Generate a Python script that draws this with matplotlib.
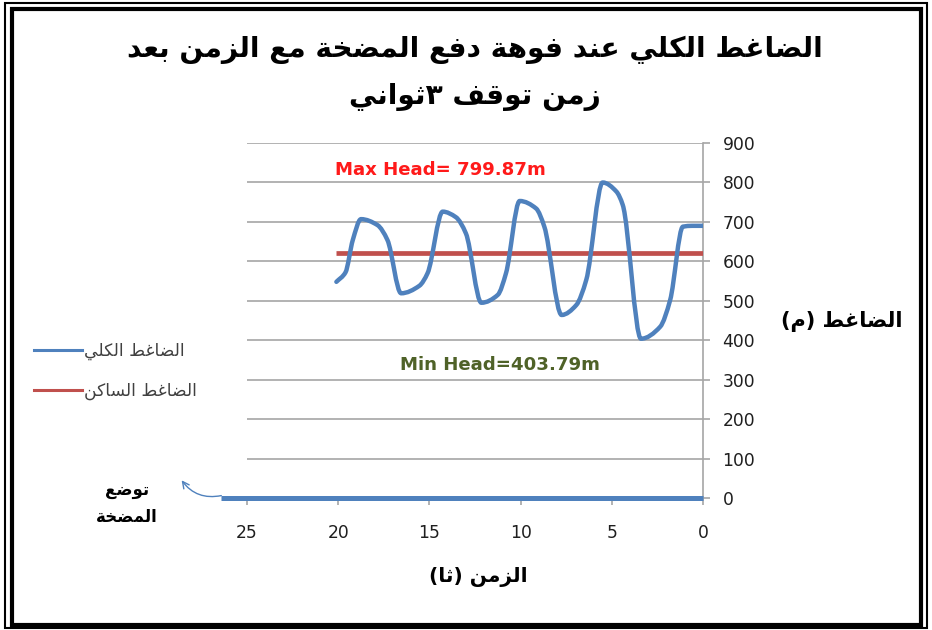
import matplotlib
matplotlib.use("Agg")
import matplotlib.pyplot as plt
from matplotlib.path import Path
from matplotlib.patches import PathPatch, Rectangle, FancyArrowPatch
from matplotlib.lines import Line2D
import numpy as np

# ---------------- data ----------------
time_s = [20.1, 19.6, 19.2, 18.75, 17.85, 17.3, 16.55, 15.55, 15.1, 14.27,
          13.55, 13.0, 12.15, 11.25, 10.8, 10.05, 9.15, 8.7, 7.75, 6.95,
          6.4, 5.5, 4.75, 4.4, 3.4, 2.35, 1.8, 1.1, 0.6, 0.0]
total_head = [548, 572, 654, 707, 692, 654, 519, 538, 570, 726,
              712, 671, 495, 515, 570, 753, 734, 688, 464, 489,
              553, 799.87, 777, 743, 403.79, 434, 502, 688, 690, 690]
static_time = [20.1, 0.0]
static_head = [622, 622]
pump_time = [0.0, 26.4]
pump_head = [0, 0]

x_ticks = [0, 5, 10, 15, 20, 25]
y_ticks = [0, 100, 200, 300, 400, 500, 600, 700, 800, 900]

title_lines = ["الضاغط الكلي عند فوهة دفع المضخة مع الزمن بعد", "زمن توقف ٣ثواني"]
legend_labels = ["الضاغط الكلي", "الضاغط الساكن"]
y_label = "الضاغط (م)"
x_label = "الزمن (ثا)"
pump_note = ["توضع", "المضخة"]

BLUE = "#4F81BD"
RED = "#C0504D"
GRID = "#A6A6A6"

# ------------- Arabic shaping (presentation forms, visual order) -------------
_letters = [("ء", 1), ("آ", 2), ("أ", 2), ("ؤ", 2), ("إ", 2), ("ئ", 4), ("ا", 2),
            ("ب", 4), ("ة", 2), ("ت", 4), ("ث", 4), ("ج", 4), ("ح", 4), ("خ", 4),
            ("د", 2), ("ذ", 2), ("ر", 2), ("ز", 2), ("س", 4), ("ش", 4), ("ص", 4),
            ("ض", 4), ("ط", 4), ("ظ", 4), ("ع", 4), ("غ", 4), ("ف", 4), ("ق", 4),
            ("ك", 4), ("ل", 4), ("م", 4), ("ن", 4), ("ه", 4), ("و", 2), ("ى", 2),
            ("ي", 4)]
FORMS = {}
_cp = 0xFE80
for _ch, _n in _letters:
    FORMS[_ch] = [chr(_cp + k) for k in range(_n)]
    _cp += _n
LAM_ALEF = {"ا": ("\uFEFB", "\uFEFC"), "أ": ("\uFEF7", "\uFEF8"),
            "إ": ("\uFEF9", "\uFEFA"), "آ": ("\uFEF5", "\uFEF6")}
MIRROR = {"(": ")", ")": "(", "[": "]", "]": "["}


def _joins_forward(ch):
    return ch in FORMS and len(FORMS[ch]) == 4


def shape(text):
    chars = list(text)
    out = []
    i = 0
    while i < len(chars):
        c = chars[i]
        prev = chars[i - 1] if i > 0 else ""
        nxt = chars[i + 1] if i + 1 < len(chars) else ""
        jp = _joins_forward(prev) and c in FORMS and c != "ء"
        if c == "ل" and nxt in LAM_ALEF:
            out.append(LAM_ALEF[nxt][1 if jp else 0])
            i += 2
            continue
        if c in FORMS:
            jn = _joins_forward(c) and nxt in FORMS
            f = FORMS[c]
            if jp and jn:
                out.append(f[3])
            elif jp:
                out.append(f[1])
            elif jn:
                out.append(f[2])
            else:
                out.append(f[0])
        else:
            out.append(MIRROR.get(c, c))
        i += 1
    return "".join(reversed(out))


# ---------------- figure ----------------
W, H = 932, 630
fig = plt.figure(figsize=(W / 100, H / 100), dpi=100)
fig.patch.set_facecolor("white")


def fx(px):
    return px / W


def fy(py):
    return 1 - py / H


ax = fig.add_axes([fx(247), fy(498), fx(703) - fx(247), fy(143) - fy(498)])
ax.set_xlim(25, 0)
ax.set_ylim(0, 900)
ax.set_facecolor("white")

for yv in y_ticks[1:]:
    ax.axhline(yv, color=GRID, lw=1.2, zorder=1)

for side in ("left", "top"):
    ax.spines[side].set_visible(False)
for side in ("right", "bottom"):
    ax.spines[side].set_color(GRID)
    ax.spines[side].set_linewidth(1.2)

ax.yaxis.tick_right()
ax.set_xticks(x_ticks)
ax.set_yticks(y_ticks)
ax.tick_params(axis="both", direction="out", length=5, width=1.2, color=GRID,
               labelcolor="#1F1F1F", labelsize=12.3)
for lab in ax.get_xticklabels() + ax.get_yticklabels():
    lab.set_fontfamily("DejaVu Sans")
ax.tick_params(axis="x", pad=14)
ax.tick_params(axis="y", pad=9)


# smooth monotone curve through the readings (Bezier segments)
def monotone_path(xs, ys):
    x = np.asarray(xs, float)
    y = np.asarray(ys, float)
    h = np.diff(x)
    d = np.diff(y) / h
    m = np.zeros_like(y)
    m[0], m[-1] = d[0], d[-1]
    for k in range(1, len(x) - 1):
        if d[k - 1] * d[k] <= 0:
            m[k] = 0.0
        else:
            w1 = 2 * h[k] + h[k - 1]
            w2 = h[k] + 2 * h[k - 1]
            m[k] = (w1 + w2) / (w1 / d[k - 1] + w2 / d[k])
    verts = [(x[0], y[0])]
    codes = [Path.MOVETO]
    for k in range(len(x) - 1):
        verts += [(x[k] + h[k] / 3, y[k] + m[k] * h[k] / 3),
                  (x[k + 1] - h[k] / 3, y[k + 1] - m[k + 1] * h[k] / 3),
                  (x[k + 1], y[k + 1])]
        codes += [Path.CURVE4] * 3
    return Path(verts, codes)


ax.add_patch(PathPatch(monotone_path(time_s, total_head), fill=False,
                       edgecolor=BLUE, lw=3.2, capstyle="round",
                       joinstyle="round", zorder=4))
ax.plot(static_time, static_head, color=RED, lw=3.4, solid_capstyle="butt",
        zorder=3)
ax.plot(pump_time, pump_head, color=BLUE, lw=3.6, solid_capstyle="butt",
        clip_on=False, zorder=5)

h_max = max(total_head)
h_min = min(total_head)
ax.text(20.15, 832, f"Max Head= {h_max:.2f}m", color="#FF1A1A",
        fontfamily="DejaVu Sans", fontweight="bold", fontsize=13.1,
        ha="left", va="center")
ax.text(16.6, 337, f"Min Head={h_min:.2f}m", color="#4F6228",
        fontfamily="DejaVu Sans", fontweight="bold", fontsize=13.1,
        ha="left", va="center")

ARFONT = ["DejaVu Sans"]

# title, two centred lines
for txt, ypx in zip(title_lines, (50, 97)):
    fig.text(fx(475), fy(ypx), shape(txt), ha="center", va="center",
             fontsize=20.2, fontweight="bold", family=ARFONT, color="black")

# axis titles
fig.text(fx(842), fy(322), shape(y_label), ha="center", va="center",
         fontsize=15, fontweight="bold", family=ARFONT)
fig.text(fx(478), fy(577), shape(x_label), ha="center", va="center",
         fontsize=14.5, fontweight="bold", family=ARFONT)

# pump position note and arrow
for txt, ypx in zip(pump_note, (490, 517)):
    fig.text(fx(127), fy(ypx), shape(txt), ha="center", va="center",
             fontsize=12, fontweight="bold", family=ARFONT)
fig.add_artist(FancyArrowPatch((fx(224), fy(495)), (fx(180), fy(478)),
                               transform=fig.transFigure,
                               connectionstyle="arc3,rad=-0.35",
                               arrowstyle="->", mutation_scale=12,
                               color=BLUE, lw=1.0))

# legend
handles = [Line2D([], [], color=BLUE, lw=2.2), Line2D([], [], color=RED, lw=2.2)]
leg = fig.legend(handles, [shape(t) for t in legend_labels],
                 loc="center left", bbox_to_anchor=(fx(34), fy(371)),
                 frameon=False, handlelength=2.8, handletextpad=0.1,
                 labelspacing=1.25, borderpad=0, borderaxespad=0,
                 prop={"family": ARFONT, "size": 12.3})
for t in leg.get_texts():
    t.set_color("#404040")

# double border around the sheet
fig.add_artist(Rectangle((fx(5), fy(628)), fx(927) - fx(5), fy(3) - fy(628),
                         transform=fig.transFigure, fill=False,
                         edgecolor="black", lw=1.5))
fig.add_artist(Rectangle((fx(11.5), fy(625)), fx(921) - fx(11.5), fy(9) - fy(625),
                         transform=fig.transFigure, fill=False,
                         edgecolor="black", lw=3.0))

fig.savefig("out.png", dpi=100, facecolor="white")
